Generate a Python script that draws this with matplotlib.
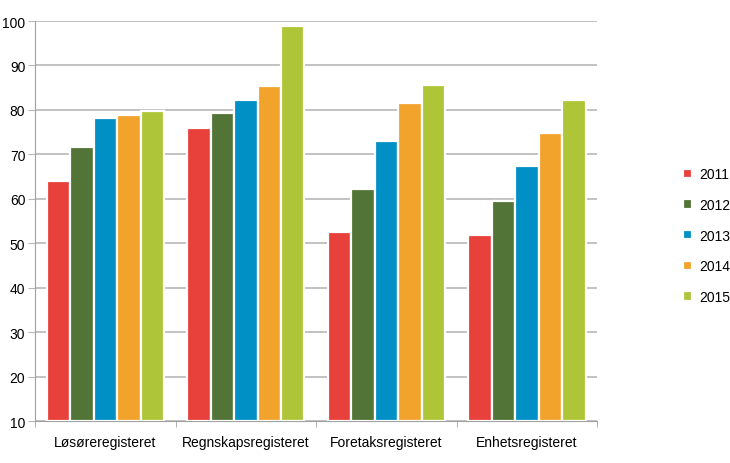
import matplotlib.pyplot as plt
import numpy as np

plt.rcParams['font.family'] = ['Liberation Sans', 'DejaVu Sans']

categories = ["Løsøreregisteret", "Regnskapsregisteret", "Foretaksregisteret", "Enhetsregisteret"]
years = ["2011", "2012", "2013", "2014", "2015"]
values = {
    "2011": [64.1, 75.9, 52.6, 51.8],
    "2012": [71.7, 79.3, 62.1, 59.4],
    "2013": [78.2, 82.3, 73.1, 67.4],
    "2014": [78.9, 85.3, 81.5, 74.7],
    "2015": [79.8, 98.9, 85.5, 82.3],
}
colors = ["#e8403a", "#527436", "#0090c6", "#f2a32b", "#afc538"]

BASE = 10

fig = plt.figure(figsize=(7.3, 4.64), dpi=100)
ax = fig.add_axes([0.048, 0.0905, 0.77, 0.862])

x = np.arange(len(categories))
width = 0.167
for i, yr in enumerate(years):
    vals = np.array(values[yr])
    ax.bar(x + (i - 2) * width, vals - BASE, width, bottom=BASE, color=colors[i],
           edgecolor='white', linewidth=1.6, label=yr, zorder=3)

ax.set_ylim(10, 100)
ax.set_xlim(-0.5, len(categories) - 0.5)
ax.set_yticks(np.arange(10, 101, 10))
ax.yaxis.grid(True, color='#b8b8b8', linewidth=1.2, zorder=0)
ax.set_axisbelow(True)

ax.set_xticks(x)
ax.set_xticklabels(categories, fontsize=10)
ax.set_xticks(np.arange(-0.5, len(categories)), minor=True)
ax.tick_params(axis='x', which='major', length=0, pad=10)
ax.tick_params(axis='x', which='minor', length=4, color='#a0a0a0')
ax.tick_params(axis='y', length=5, color='#b8b8b8', labelsize=10, pad=2)

for s in ['top', 'right']:
    ax.spines[s].set_visible(False)
ax.spines['left'].set_color('#a0a0a0')
ax.spines['bottom'].set_color('#a0a0a0')

fig.legend(loc='center left', bbox_to_anchor=(0.928, 0.49), frameon=False,
           fontsize=10, handlelength=0.65, handleheight=0.65, labelspacing=1.2,
           handletextpad=0.5, borderaxespad=0)

fig.savefig("out.png", dpi=100)
